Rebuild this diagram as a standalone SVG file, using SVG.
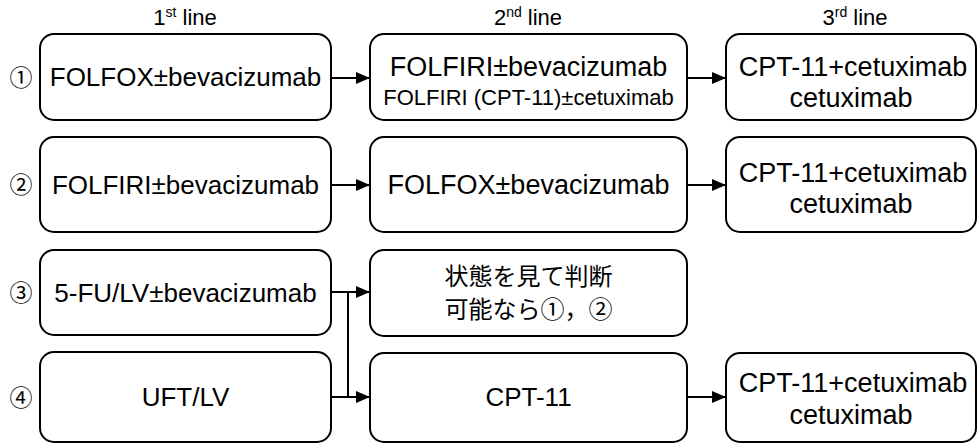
<svg xmlns="http://www.w3.org/2000/svg" width="978" height="444" viewBox="0 0 978 444">
<style>
.box{fill:#fff;stroke:#000;stroke-width:2}
.t{font-family:"Liberation Sans","Noto Sans CJK JP",sans-serif;font-size:26px;fill:#000;text-anchor:middle}
.l{font-size:27px}
.s{font-size:22px}
.j{font-family:"Noto Sans CJK JP",sans-serif;font-size:24px}
.h{font-family:"Liberation Sans",sans-serif;font-size:22px;fill:#000;text-anchor:middle}
.n{font-family:"Noto Sans CJK JP",sans-serif;font-size:23px;fill:#000;text-anchor:middle}
.c{fill:none;stroke:#000;stroke-width:2}
</style>
<defs>
<marker id="ah" viewBox="0 0 14 12" refX="14" refY="6" markerWidth="14" markerHeight="12" markerUnits="userSpaceOnUse" orient="auto">
<path d="M0,0 L14,6 L0,12 Z" fill="#000"/>
</marker>
</defs>
<rect width="978" height="444" fill="#fff"/>
<g id="headers">
<text class="h" x="185" y="25">1<tspan font-size="14" baseline-shift="super">st</tspan> line</text>
<text class="h" x="528" y="25">2<tspan font-size="14" baseline-shift="super">nd</tspan> line</text>
<text class="h" x="855" y="25">3<tspan font-size="14" baseline-shift="super">rd</tspan> line</text>
</g>
<g id="labels">
<text class="n" x="21" y="86">①</text>
<text class="n" x="21" y="193">②</text>
<text class="n" x="21" y="301">③</text>
<text class="n" x="21" y="406">④</text>
</g>
<g id="connectors">
<line class="c" x1="331" y1="78" x2="370" y2="78" marker-end="url(#ah)"/>
<line class="c" x1="687" y1="78" x2="726" y2="78" marker-end="url(#ah)"/>
<line class="c" x1="331" y1="185" x2="370" y2="185" marker-end="url(#ah)"/>
<line class="c" x1="687" y1="185" x2="726" y2="185" marker-end="url(#ah)"/>
<line class="c" x1="331" y1="292" x2="370" y2="292" marker-end="url(#ah)"/>
<line class="c" x1="331" y1="397" x2="370" y2="397" marker-end="url(#ah)"/>
<line class="c" x1="348" y1="292" x2="348" y2="397"/>
<line class="c" x1="687" y1="397" x2="726" y2="397" marker-end="url(#ah)"/>
</g>
<g id="n1a"><rect class="box" x="40" y="34" width="291" height="86" rx="14"/><text class="t" x="185.5" y="86">FOLFOX±bevacizumab</text></g>
<g id="n1b"><rect class="box" x="370" y="34" width="317" height="86" rx="14"/><text class="t l" x="528.5" y="76">FOLFIRI±bevacizumab</text><text class="t s" x="528.5" y="105">FOLFIRI (CPT-11)±cetuximab</text></g>
<g id="n1c"><rect class="box" x="726" y="34" width="250" height="86" rx="14"/><text class="t l" x="853" y="76">CPT-11+cetuximab</text><text class="t l" x="851" y="107">cetuximab</text></g>
<g id="n2a"><rect class="box" x="40" y="137" width="291" height="95" rx="14"/><text class="t" x="185.5" y="194">FOLFIRI±bevacizumab</text></g>
<g id="n2b"><rect class="box" x="370" y="137" width="317" height="95" rx="14"/><text class="t l" x="528.5" y="194">FOLFOX±bevacizumab</text></g>
<g id="n2c"><rect class="box" x="726" y="137" width="250" height="95" rx="14"/><text class="t l" x="853" y="182">CPT-11+cetuximab</text><text class="t l" x="851" y="213">cetuximab</text></g>
<g id="n3a"><rect class="box" x="40" y="250" width="291" height="85" rx="14"/><text class="t" x="185.5" y="302">5-FU/LV±bevacizumab</text></g>
<g id="n3b"><rect class="box" x="370" y="250" width="317" height="86" rx="14"/><text class="t j" x="528.5" y="285">状態を見て判断</text><text class="t j" x="528.5" y="318">可能なら①，②</text></g>
<g id="n4a"><rect class="box" x="40" y="352" width="291" height="90" rx="14"/><text class="t" x="185.5" y="406">UFT/LV</text></g>
<g id="n4b"><rect class="box" x="370" y="353" width="317" height="89" rx="14"/><text class="t" x="528.5" y="406">CPT-11</text></g>
<g id="n4c"><rect class="box" x="726" y="353" width="250" height="89" rx="14"/><text class="t l" x="853" y="392">CPT-11+cetuximab</text><text class="t l" x="851" y="424">cetuximab</text></g>
</svg>
